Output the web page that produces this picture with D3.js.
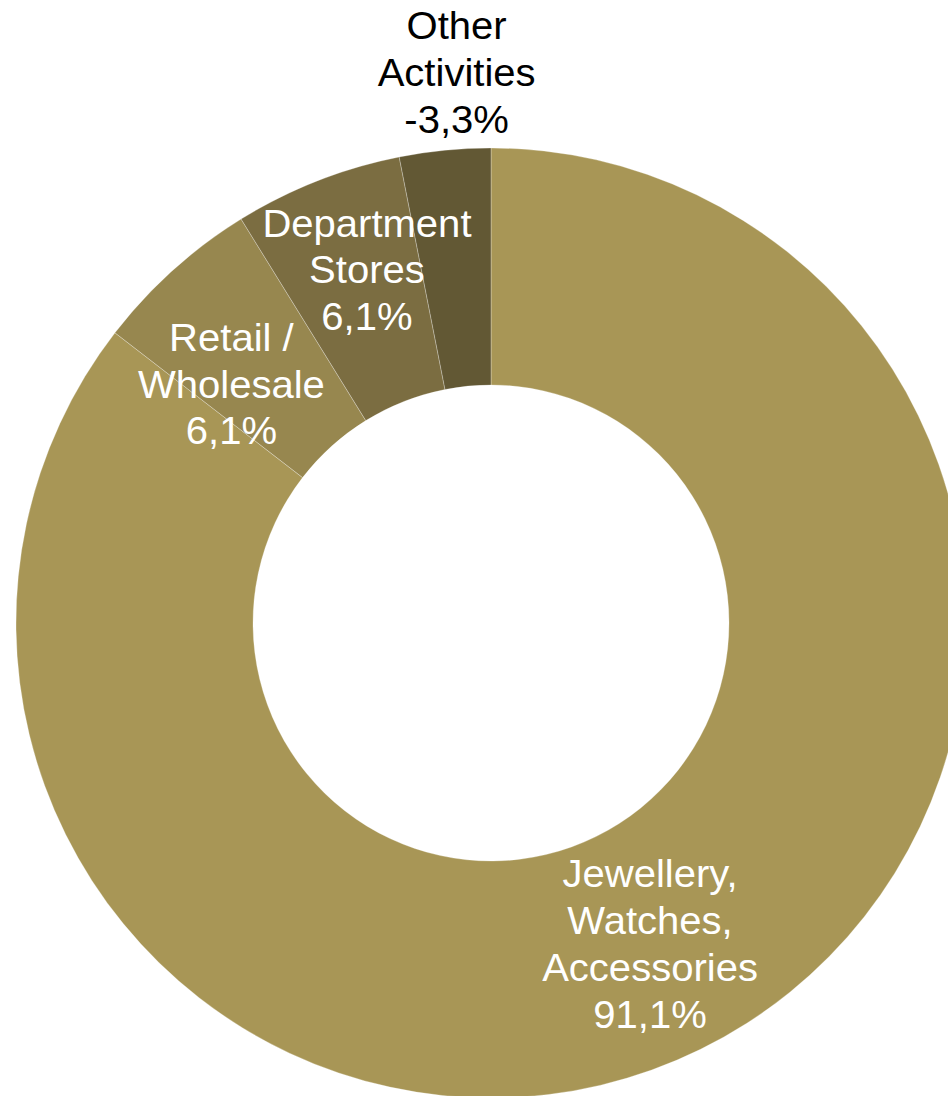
<!DOCTYPE html>
<html>
<head>
<meta charset="utf-8">
<script src="https://cdn.jsdelivr.net/npm/d3@7/dist/d3.min.js"></script>
<style>
  html, body { margin: 0; padding: 0; background: #ffffff; }
  svg { display: block; }
</style>
</head>
<body>
<svg id="chart" width="948" height="1096"></svg>
<script>
// Segment share of results (%), in drawing order clockwise from 12 o'clock
const segments = ["Jewellery, Watches, Accessories", "Retail / Wholesale", "Department Stores", "Other Activities"];
const shares = [91.1, 6.1, 6.1, -3.3];
const labelLines = [
  ["Jewellery,", "Watches,", "Accessories"],
  ["Retail /", "Wholesale"],
  ["Department", "Stores"],
  ["Other", "Activities"]
];
const colors = ["#a89656", "#97874f", "#7b6d41", "#625834"];

const width = 948, height = 1096;
const cx = 491, cy = 623;
const outerR = 475, innerR = 238;

// label placement: radius along the slice's mid-angle, angle nudge (deg), text colour
const labelStyle = [
  { r: 358, da: -0.2, fill: "#ffffff" },
  { r: 353, da: -5.3, fill: "#ffffff" },
  { r: 374.5, da: 2.1, fill: "#ffffff" },
  { r: 552, da: 2.0, fill: "#000000" }
];

const svg = d3.select("#chart");
const g = svg.append("g").attr("transform", `translate(${cx},${cy})`);

const data = segments.map((name, i) => ({ name, value: shares[i], i }));

// slice size follows the magnitude of each share
const pie = d3.pie().sort(null).value(d => Math.abs(d.value));
const arc = d3.arc().innerRadius(innerR).outerRadius(outerR);
const arcs = pie(data);

g.selectAll("path.slice")
  .data(arcs)
  .join("path")
  .attr("class", "slice")
  .attr("d", arc)
  .attr("fill", d => colors[d.data.i])
  .attr("stroke", "rgba(255,255,255,0.35)")
  .attr("stroke-width", 0.8);

const fmt = v => d3.format(".1f")(Math.abs(v)).replace(".", ",") + "%";
const sign = v => (v < 0 ? "-" : "");
const fontSize = 38.5, lineH = 46.8, stretchX = 1.04;

arcs.forEach(a => {
  const st = labelStyle[a.data.i];
  const mid = (a.startAngle + a.endAngle) / 2 + st.da * Math.PI / 180;
  const x = st.r * Math.sin(mid);
  const y = -st.r * Math.cos(mid);
  const lines = labelLines[a.data.i].concat([sign(a.data.value) + fmt(a.data.value)]);
  const n = lines.length;
  const capH = fontSize * 0.716;
  // first baseline so the block's visual centre sits at y
  const top = -((n - 1) * lineH + capH) / 2 + capH;
  const t = g.append("text")
    .attr("transform", `translate(${x},${y}) scale(${stretchX},1)`)
    .attr("text-anchor", "middle")
    .attr("font-family", "Liberation Sans, Arial, sans-serif")
    .attr("font-size", fontSize)
    .attr("fill", st.fill);
  lines.forEach((ln, k) => {
    t.append("tspan").attr("x", 0).attr("y", top + k * lineH).text(ln);
  });
});
</script>
</body>
</html>
